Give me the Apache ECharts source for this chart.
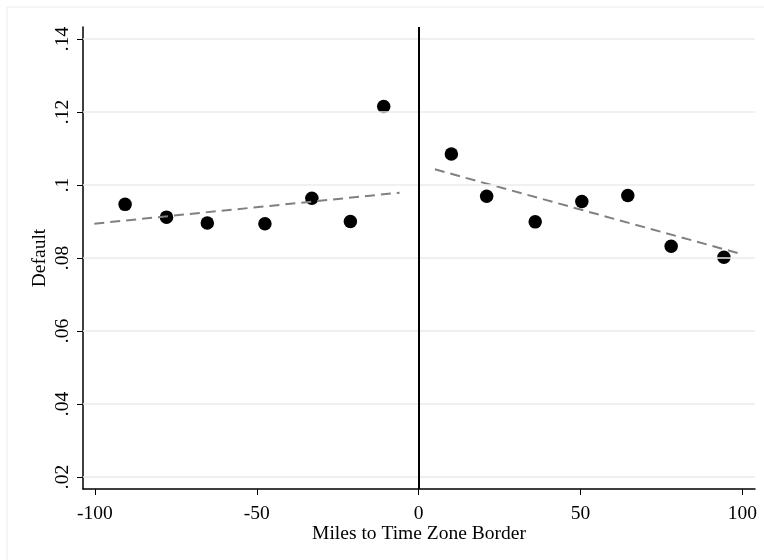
<!DOCTYPE html>
<html>
<head>
<meta charset="utf-8">
<script src="https://cdn.jsdelivr.net/npm/echarts@6/dist/echarts.min.js"></script>
<style>
html,body{margin:0;padding:0;background:#fff;}
#chart{width:764px;height:560px;}
</style>
</head>
<body>
<div id="chart"></div>
<script>
// binned means, left of the border
var leftX = [-90.7, -77.9, -65.3, -47.5, -33.0, -21.1, -10.8];
var leftY = [0.0947, 0.0912, 0.0896, 0.0894, 0.0964, 0.0900, 0.1215];
// binned means, right of the border
var rightX = [10.1, 21.0, 36.0, 50.4, 64.6, 78.0, 94.3];
var rightY = [0.1085, 0.0969, 0.0899, 0.0955, 0.0971, 0.0832, 0.0802];
// fitted lines (end points)
var leftFitX = [-100.2, -5.9];
var leftFitY = [0.0894, 0.0979];
var rightFitX = [5.0, 100.1];
var rightFitY = [0.1043, 0.0810];
// ticks
var xTicks = [-100, -50, 0, 50, 100];
var yTicks = [0.02, 0.04, 0.06, 0.08, 0.10, 0.12, 0.14];

function pairs(xs, ys){
	var out = [];
	for (var i = 0; i < xs.length; i++) out.push([xs[i], ys[i]]);
	return out;
}

var font = 'Liberation Serif';
var chart = echarts.init(document.getElementById('chart'));

chart.setOption({
	backgroundColor: '#fff',
	animation: false,
	graphic: [{
		type: 'rect',
		shape: {x: 7, y: 7, width: 800, height: 600},
		style: {fill: 'none', stroke: '#ececec', lineWidth: 1},
		silent: true
	}],
	grid: {left: 83, right: 9, top: 27, bottom: 71},
	xAxis: {
		type: 'value',
		min: -103.7,
		max: 103.9,
		name: 'Miles to Time Zone Border',
		nameLocation: 'middle',
		nameGap: 35,
		nameMoveOverlap: false,
		nameTextStyle: {fontFamily: font, fontSize: 19.5, color: '#000'},
		axisLine: {show: true, onZero: false, lineStyle: {color: '#000', width: 1.5}},
		axisTick: {show: true, length: 6, customValues: xTicks, lineStyle: {color: '#000', width: 1}},
		axisLabel: {
			customValues: xTicks,
			fontFamily: font, fontSize: 19.5, color: '#000', margin: 15
		},
		splitLine: {show: false}
	},
	yAxis: {
		type: 'value',
		min: 0.0167,
		max: 0.1433,
		name: 'Default',
		nameLocation: 'middle',
		nameRotate: 90,
		nameGap: 33,
		nameMoveOverlap: false,
		nameTextStyle: {fontFamily: font, fontSize: 19.5, color: '#000'},
		axisLine: {show: true, onZero: false, lineStyle: {color: '#000', width: 1.5}},
		axisTick: {show: true, length: 6, customValues: yTicks, lineStyle: {color: '#000', width: 1}},
		axisLabel: {
			customValues: yTicks,
			rotate: 90,
			fontFamily: font, fontSize: 19.5, color: '#000', margin: 10,
			formatter: function(v){
				return String(+v.toFixed(2)).replace(/^0/, '');
			}
		},
		splitLine: {show: false}
	},
	series: [
		{
			type: 'line',
			data: [],
			silent: true,
			markLine: {
				symbol: 'none',
				silent: true,
				label: {show: false},
				lineStyle: {color: '#e6eef0', width: 1.5, type: 'solid'},
				data: yTicks.map(function(t){ return {yAxis: t}; })
			}
		},
		{
			type: 'line',
			data: [],
			silent: true,
			markLine: {
				symbol: 'none',
				silent: true,
				label: {show: false},
				lineStyle: {color: '#000', width: 2, type: 'solid'},
				data: [{xAxis: 0}]
			}
		},
		{
			type: 'line',
			data: pairs(leftFitX, leftFitY),
			showSymbol: false,
			lineStyle: {color: '#808080', width: 2, type: [10, 6]}
		},
		{
			type: 'line',
			data: pairs(rightFitX, rightFitY),
			showSymbol: false,
			lineStyle: {color: '#808080', width: 2, type: [10, 6]}
		},
		{
			type: 'scatter',
			data: pairs(leftX, leftY),
			symbolSize: 13.5,
			itemStyle: {color: '#000', opacity: 1}
		},
		{
			type: 'scatter',
			data: pairs(rightX, rightY),
			symbolSize: 13.5,
			itemStyle: {color: '#000', opacity: 1}
		}
	]
});
</script>
</body>
</html>
